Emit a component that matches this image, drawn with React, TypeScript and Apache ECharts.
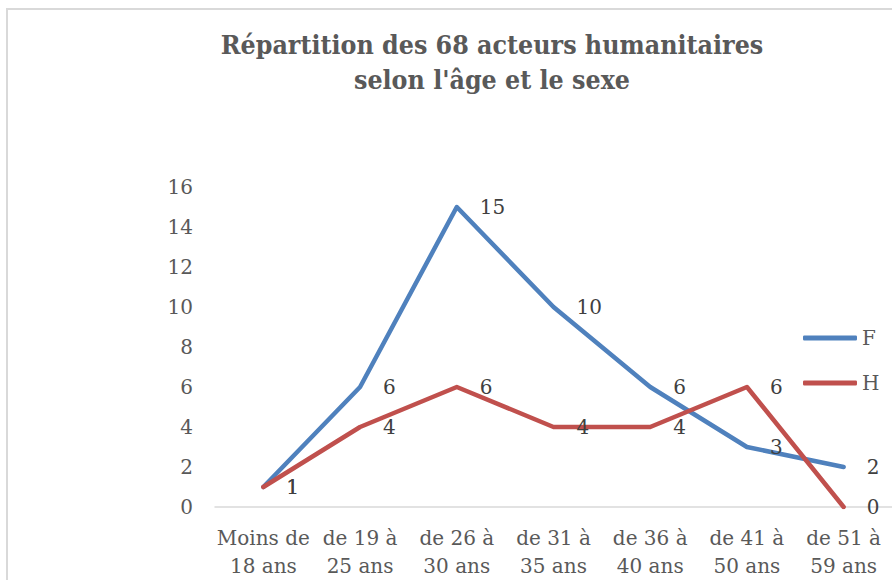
import React, { useEffect, useRef } from "react";
import * as echarts from "echarts";

const categories = [
  "Moins de 18 ans",
  "de 19 à 25 ans",
  "de 26 à 30 ans",
  "de 31 à 35 ans",
  "de 36 à 40 ans",
  "de 41 à 50 ans",
  "de 51 à 59 ans",
];
const seriesF = [1, 6, 15, 10, 6, 3, 2];
const seriesH = [1, 4, 6, 4, 4, 6, 0];
const yTicks = { min: 0, max: 16, interval: 2 };

const wrapLabel = (s: string) => {
  const w = s.split(" ");
  return w.slice(0, w.length - 2).join(" ") + "\n" + w.slice(w.length - 2).join(" ");
};

export default function App() {
  const ref = useRef<HTMLDivElement>(null);
  useEffect(() => {
    if (!ref.current) return;
    const chart = echarts.init(ref.current, undefined, { renderer: "svg" });
    const labelStyle = {
      show: true,
      position: "right" as const,
      distance: 23,
      color: "#404040",
      fontFamily: "DejaVu Serif",
      fontSize: 20,
    };
    chart.setOption({
      animation: false,
      backgroundColor: "#ffffff",
      title: {
        text: "Répartition des 68 acteurs humanitaires\nselon l'âge et le sexe",
        left: 487,
        textAlign: "center",
        top: 22,
        textStyle: {
          fontFamily: "DejaVu Serif Condensed",
          fontWeight: "bold",
          fontSize: 26.5,
          lineHeight: 35,
          color: "#595959",
        },
      },
      graphic: [
        {
          type: "rect",
          shape: { x: 7, y: 9, width: 950, height: 650 },
          style: { fill: "none", stroke: "#D9D9D9", lineWidth: 2 },
          silent: true,
        },
      ],
      legend: {
        orient: "vertical",
        left: 798,
        top: 323,
        itemWidth: 54,
        itemHeight: 5,
        itemGap: 25,
        icon: "roundRect",
        textStyle: {
          fontFamily: "DejaVu Serif",
          fontSize: 20,
          lineHeight: 20,
          color: "#595959",
        },
        data: ["F", "H"],
      },
      grid: { left: 215, right: -4, top: 187, bottom: 73, containLabel: false },
      xAxis: {
        type: "category",
        data: categories,
        boundaryGap: true,
        axisLine: { show: true, lineStyle: { color: "#D9D9D9", width: 1.5 } },
        axisTick: { show: false },
        axisLabel: {
          formatter: (v: string) => wrapLabel(v),
          fontFamily: "DejaVu Serif",
          fontSize: 20,
          lineHeight: 28,
          color: "#595959",
          margin: 17,
          interval: 0,
        },
      },
      yAxis: {
        type: "value",
        min: yTicks.min,
        max: yTicks.max,
        interval: yTicks.interval,
        axisLine: { show: false },
        axisTick: { show: false },
        splitLine: { show: false },
        axisLabel: {
          fontFamily: "DejaVu Serif",
          fontSize: 20,
          color: "#595959",
          margin: 22,
        },
      },
      series: [
        {
          name: "F",
          type: "line",
          data: seriesF,
          symbol: "circle",
          symbolSize: 0,
          lineStyle: { color: "#4F81BD", width: 4.5, cap: "round", join: "round" },
          itemStyle: { color: "#4F81BD" },
          label: labelStyle,
        },
        {
          name: "H",
          type: "line",
          data: seriesH,
          symbol: "circle",
          symbolSize: 0,
          lineStyle: { color: "#C0504D", width: 4.5, cap: "round", join: "round" },
          itemStyle: { color: "#C0504D" },
          label: labelStyle,
        },
      ],
    });
    return () => chart.dispose();
  }, []);
  return (
    <div
      ref={ref}
      style={{ position: "absolute", left: 0, top: 0, width: 892, height: 580 }}
    />
  );
}
